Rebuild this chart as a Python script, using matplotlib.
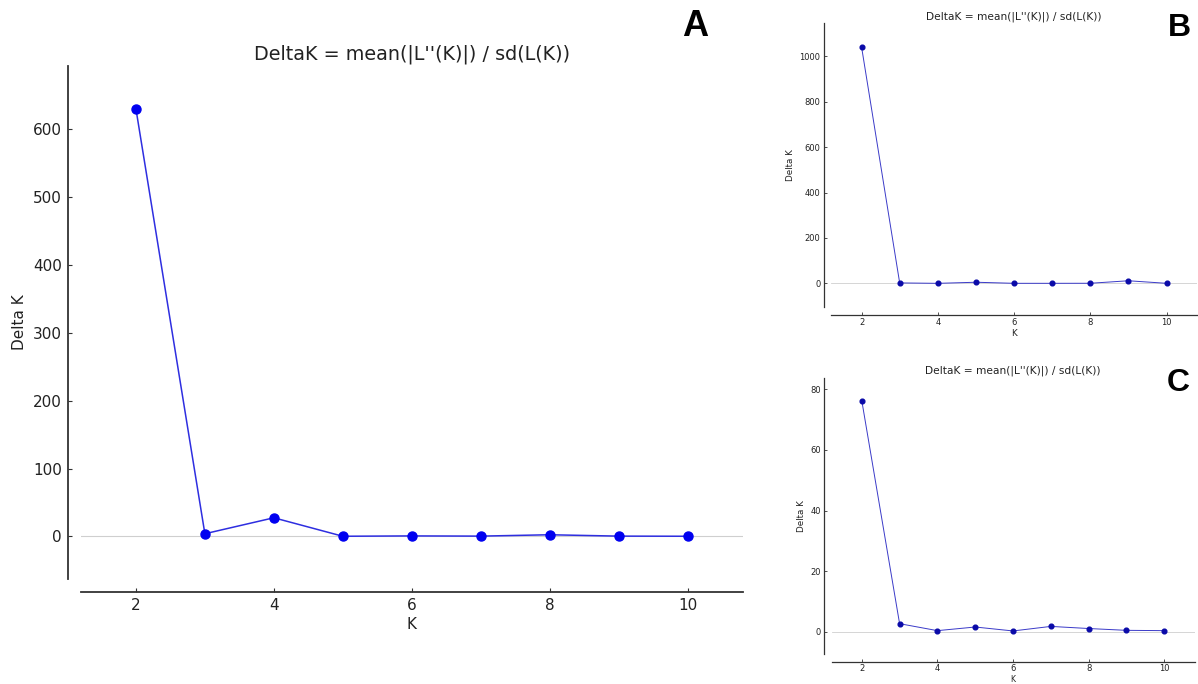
import matplotlib
matplotlib.use("Agg")
import matplotlib.pyplot as plt
from matplotlib.ticker import MultipleLocator

# K values shared by the three panels
k_values = [2, 3, 4, 5, 6, 7, 8, 9, 10]

# Delta K per panel
delta_a = [629.5, 4.0, 27.5, 0.3, 0.8, 0.5, 2.5, 0.5, 0.3]
delta_b = [1042.0, 2.0, 0.2, 5.0, 0.3, 0.3, 0.5, 11.5, 0.3]
delta_c = [76.3, 2.6, 0.3, 1.5, 0.2, 1.7, 1.0, 0.4, 0.3]

title = "DeltaK = mean(|L''(K)|) / sd(L(K))"
TXT = "#222222"


def panel(ax, ks, vals, ystep, big):
    # 10 % padding around the data, like the original plotting tool
    xr = max(ks) - min(ks)
    yr = max(vals) - min(vals)
    ax.set_xlim(min(ks) - 0.1 * xr, max(ks) + 0.1 * xr)
    ax.set_ylim(min(vals) - 0.1 * yr, max(vals) + 0.1 * yr)

    ax.axhline(0, color="#cfcfcf", lw=0.8 if big else 0.6, zorder=1)
    if big:
        ax.plot(ks, vals, "-", color="#2e2ee0", lw=1.1, zorder=2)
        ax.plot(ks, vals, "o", color="#0000f0", ms=6.5, mec="#0000f0", zorder=3)
    else:
        ax.plot(ks, vals, "-", color="#3a3ac8", lw=0.7, zorder=2)
        ax.plot(ks, vals, "o", color="#0a0aa8", ms=3.4, mec="#0a0aa8", zorder=3)

    for s in ("top", "right"):
        ax.spines[s].set_visible(False)
    off_l, off_b = (9.3, 9.6) if big else (5.1, 5.6)
    ax.spines["left"].set_position(("outward", off_l))
    ax.spines["bottom"].set_position(("outward", off_b))
    for s in ("left", "bottom"):
        ax.spines[s].set_color("#333333")
        ax.spines[s].set_linewidth(1.3 if big else 0.9)

    ax.xaxis.set_major_locator(MultipleLocator(2))
    ax.yaxis.set_major_locator(MultipleLocator(ystep))
    if big:
        ax.tick_params(direction="in", length=3, width=0.8, labelsize=11,
                       pad=4.3, colors="#333333", labelcolor=TXT)
        ax.set_xlabel("K", fontsize=11, color=TXT, labelpad=3)
        ax.set_ylabel("Delta K", fontsize=11, color=TXT, labelpad=4)
        ax.set_title(title, fontsize=13.8, color=TXT, pad=4.5)
    else:
        ax.tick_params(direction="in", length=2, width=0.6, labelsize=6,
                       pad=2.6, colors="#333333", labelcolor=TXT)
        ax.set_xlabel("K", fontsize=6.3, color=TXT, labelpad=1.5)
        ax.set_ylabel("Delta K", fontsize=6.3, color=TXT, labelpad=2.8)
        ax.set_title(title, fontsize=7.65, color=TXT, pad=3)


fig = plt.figure(figsize=(11.98, 6.84), dpi=100)

ax_a = fig.add_axes([0.0674, 0.1535, 0.5526, 0.7500])
ax_b = fig.add_axes([0.6937, 0.5512, 0.3055, 0.4148])
ax_c = fig.add_axes([0.6941, 0.0439, 0.3030, 0.4040])

panel(ax_a, k_values, delta_a, 100, True)
panel(ax_b, k_values, delta_b, 200, False)
panel(ax_c, k_values, delta_c, 20, False)

# panel C sits on the lower edge: tighten its x tick labels and "K" so they fit
ax_c.tick_params(axis="x", pad=1.6)
ax_c.xaxis.label.set_fontsize(5.5)
ax_c.xaxis.set_label_coords(0.5, -0.075)

lab = dict(fontweight="bold", family="Liberation Sans", ha="center", va="center",
           color="black")
fig.text(695.5 / 1198, 1 - 26 / 684, "A", fontsize=26, **lab)
fig.text(1179 / 1198, 1 - 28 / 684, "B", fontsize=23, **lab)
fig.text(1178 / 1198, 1 - 383 / 684, "C", fontsize=23, **lab)

fig.savefig("out.png", dpi=100)
